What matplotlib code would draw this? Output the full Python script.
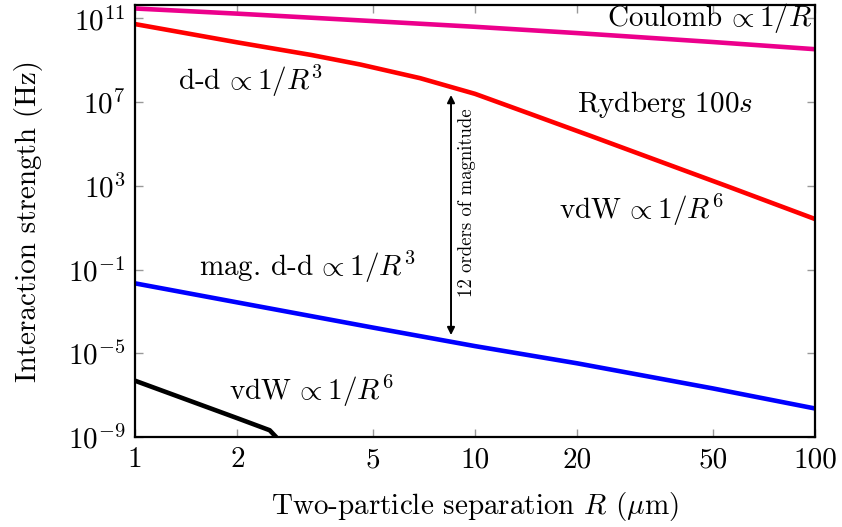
import matplotlib
matplotlib.use("Agg")
import matplotlib.pyplot as plt

plt.rcParams['font.family'] = 'serif'
plt.rcParams['font.serif'] = ['cmr10']
plt.rcParams['mathtext.fontset'] = 'cm'
plt.rcParams['axes.formatter.use_mathtext'] = True

# interaction strengths (Hz) vs separation R (um)
R_coul = [1, 2, 5, 10, 20, 50, 100]
V_coul = [3.0e11, 1.7e11, 7.5e10, 4.0e10, 2.0e10, 7.5e9, 3.4e9]

R_ryd = [1, 2, 3.3, 4.6, 6.9, 10, 14.5, 21.8, 32.7, 55, 100]
V_ryd = [5.4e10, 7.2e9, 1.8e9, 6.3e8, 1.4e8, 2.5e7, 2.8e6, 2.5e5, 2.2e4, 9.8e2, 26]

R_mag = [1, 2, 5, 10, 20, 50, 100]
V_mag = [2.2e-2, 2.7e-3, 1.7e-4, 2.2e-5, 3.3e-6, 2.1e-7, 2.3e-8]

R_vdw = [1, 2, 2.49, 2.6, 2.7]
V_vdw = [4.9e-7, 7.9e-9, 2.1e-9, 1.0e-9, 3.2e-10]

xticks = [1, 2, 5, 10, 20, 50, 100]
xticklabels = ['1', '2', '5', '10', '20', '50', '100']
yticks = [1e11, 1e7, 1e3, 1e-1, 1e-5, 1e-9]
yticklabels = [r'$10^{11}$', r'$10^{7}$', r'$10^{3}$', r'$10^{-1}$', r'$10^{-5}$', r'$10^{-9}$']

fig = plt.figure(figsize=(8.42, 5.27), dpi=100)
ax = fig.add_axes([0.1603, 0.1708, 0.8077, 0.8197])

lw = 3.3
ax.plot(R_coul, V_coul, color='#EC008C', lw=lw, solid_joinstyle='round')
ax.plot(R_ryd, V_ryd, color='#FF0000', lw=lw, solid_joinstyle='round')
ax.plot(R_mag, V_mag, color='#0000FF', lw=lw, solid_joinstyle='round')
ax.plot(R_vdw, V_vdw, color='black', lw=lw, solid_joinstyle='round')

ax.set_xscale('log')
ax.set_yscale('log')
ax.set_xlim(1, 100)
ax.set_ylim(1e-9, 4.4e11)
ax.minorticks_off()
ax.set_xticks(xticks)
ax.set_xticklabels(xticklabels)
ax.set_yticks(yticks)
ax.set_yticklabels(yticklabels)
ax.tick_params(which='major', direction='in', length=6, width=1, color='#999999',
               top=True, right=True, labelsize=21, pad=7)
for s in ax.spines.values():
    s.set_linewidth(1.6)

fs = 21
ax.set_xlabel(r'Two-particle separation $R$ ($\mu$m)', fontsize=fs, labelpad=12)
ax.set_ylabel('Interaction strength (Hz)', fontsize=fs, labelpad=18)

ax.text(98, 1.0e11, r'Coulomb$\,\propto 1/R$', fontsize=fs, ha='right', va='center')
ax.text(2.19, 1.0e8, r'd-d$\,\propto 1/R^3$', fontsize=fs, ha='center', va='center')
ax.text(36.2, 8.0e6, r'Rydberg $100s$', fontsize=fs, ha='center', va='center')
ax.text(30.8, 6.8e1, r'vdW$\,\propto 1/R^6$', fontsize=fs, ha='center', va='center')
ax.text(3.2, 1.3e-1, r'mag. d-d$\,\propto 1/R^3$', fontsize=fs, ha='center', va='center')
ax.text(3.3, 1.55e-7, r'vdW$\,\propto 1/R^6$', fontsize=fs, ha='center', va='center')

# span between the two dipolar curves
ax.annotate('', xy=(8.5, 2.2e7), xytext=(8.5, 7.4e-5),
            arrowprops=dict(arrowstyle='<|-|>', color='black', lw=1.4,
                            mutation_scale=11, shrinkA=0, shrinkB=0))
ax.text(9.45, 1.5e2, '12 orders of magnitude', fontsize=13.5, rotation=90,
        ha='center', va='center')

fig.savefig('out.png', dpi=100)
